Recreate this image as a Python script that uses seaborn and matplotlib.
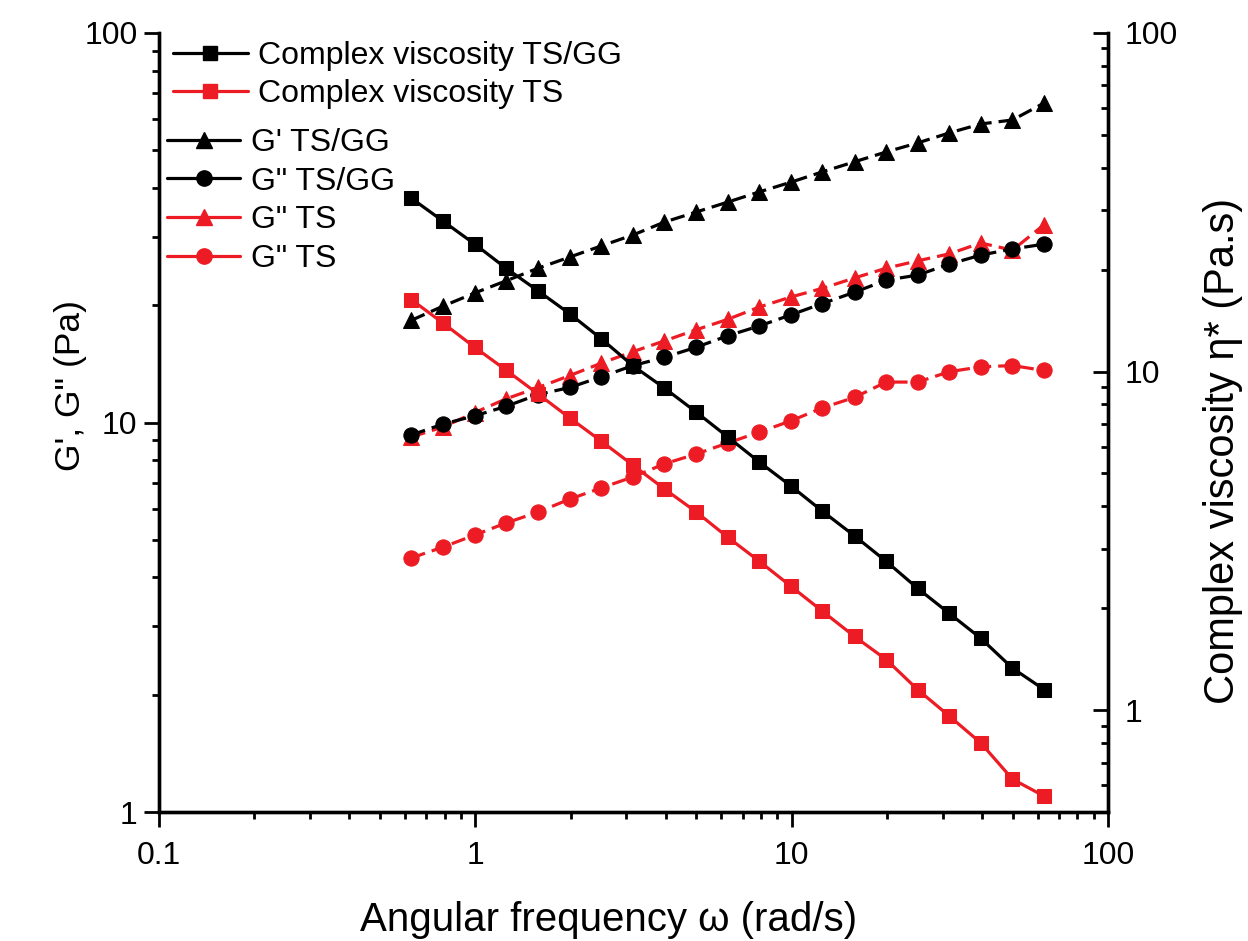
import matplotlib.pyplot as plt
import seaborn as sns
from matplotlib.lines import Line2D
from matplotlib.ticker import FuncFormatter, NullFormatter

# angular frequency (rad/s)
omega = [0.628, 0.791, 0.995, 1.25, 1.58, 1.99, 2.50, 3.15, 3.96, 4.99, 6.28,
         7.91, 9.95, 12.5, 15.8, 19.9, 25.0, 31.5, 39.6, 49.9, 62.8]

# complex viscosity (Pa.s) - right axis
eta_tsgg = [32.5, 27.8, 23.8, 20.2, 17.3, 14.8, 12.5, 10.4, 8.94, 7.59, 6.41,
            5.40, 4.59, 3.87, 3.27, 2.75, 2.29, 1.93, 1.63, 1.33, 1.15]
eta_ts = [16.3, 13.9, 11.8, 10.1, 8.58, 7.29, 6.23, 5.29, 4.50, 3.85, 3.24,
          2.75, 2.32, 1.96, 1.65, 1.41, 1.15, 0.96, 0.80, 0.625, 0.557]

# moduli (Pa) - left axis
g1_tsgg = [18.3, 19.9, 21.5, 23.1, 24.9, 26.6, 28.4, 30.3, 32.7, 34.7, 36.8,
           39.1, 41.4, 44.0, 46.7, 49.5, 52.2, 55.4, 58.4, 59.8, 66.1]
g2_tsgg = [9.29, 9.91, 10.4, 11.0, 11.8, 12.3, 13.1, 14.0, 14.7, 15.6, 16.7,
           17.7, 18.9, 20.2, 21.6, 23.2, 23.9, 25.5, 26.9, 27.9, 28.7]
g2_ts_tri = [9.18, 9.74, 10.6, 11.5, 12.3, 13.2, 14.2, 15.2, 16.2, 17.3, 18.4,
             19.8, 21.0, 22.1, 23.5, 24.9, 26.0, 27.1, 28.9, 27.7, 32.2]
g2_ts_circ = [4.49, 4.79, 5.14, 5.52, 5.89, 6.36, 6.79, 7.25, 7.83, 8.30, 8.86,
              9.45, 10.1, 10.9, 11.6, 12.7, 12.7, 13.5, 13.9, 14.0, 13.6]

visc_labels = ["Complex viscosity TS/GG", "Complex viscosity TS"]
mod_labels = ["G' TS/GG", 'G" TS/GG', 'G" TS', 'G" TS']

BLACK = "black"
RED = "#ed1c24"
LW = 2.3
DASH = (0, (4.5, 2.2))

sns.set_style("ticks")
plt.rcParams['font.family'] = ['Liberation Sans', 'DejaVu Sans']
plt.rcParams.update({'text.color': 'black', 'axes.labelcolor': 'black',
                     'xtick.color': 'black', 'ytick.color': 'black',
                     'axes.edgecolor': 'black'})

fig, ax = plt.subplots(figsize=(12.48, 9.41), dpi=100)
fig.subplots_adjust(left=159/1248, right=1108/1248, bottom=1-812/941, top=1-33/941)
ax2 = ax.twinx()

# left axis: moduli (dashed lines)
sns.lineplot(x=omega, y=g1_tsgg, ax=ax, color=BLACK, marker='^', markersize=12,
             markeredgecolor=BLACK, lw=LW, linestyle=DASH)
sns.lineplot(x=omega, y=g2_ts_tri, ax=ax, color=RED, marker='^', markersize=12,
             markeredgecolor=RED, lw=LW, linestyle=DASH)
sns.lineplot(x=omega, y=g2_tsgg, ax=ax, color=BLACK, marker='o', markersize=11,
             markeredgecolor=BLACK, lw=LW, linestyle=DASH)
sns.lineplot(x=omega, y=g2_ts_circ, ax=ax, color=RED, marker='o', markersize=11,
             markeredgecolor=RED, lw=LW, linestyle=DASH)

# right axis: complex viscosity (solid lines)
sns.lineplot(x=omega, y=eta_ts, ax=ax2, color=RED, marker='s', markersize=10,
             markeredgecolor=RED, lw=LW)
sns.lineplot(x=omega, y=eta_tsgg, ax=ax2, color=BLACK, marker='s', markersize=10,
             markeredgecolor=BLACK, lw=LW)

fmt = FuncFormatter(lambda v, p: f"{v:g}")
for a in (ax, ax2):
    a.set_xscale('log')
    a.set_yscale('log')
    a.set_xlim(0.1, 100)
    a.spines['top'].set_visible(False)
    for s in a.spines.values():
        s.set_linewidth(2.4)
    a.yaxis.set_major_formatter(fmt)
    a.yaxis.set_minor_formatter(NullFormatter())
ax.xaxis.set_major_formatter(fmt)
ax.xaxis.set_minor_formatter(NullFormatter())
ax.set_ylim(1, 100)
ax2.set_ylim(0.5, 100)

ax.tick_params(which='major', direction='out', length=11, width=2, labelsize=23)
ax.tick_params(which='minor', direction='out', length=5, width=2)
ax.tick_params(axis='x', pad=10)
ax.tick_params(axis='y', pad=4.5)
ax2.tick_params(axis='y', which='major', direction='in', length=11, width=2,
                labelsize=23, pad=12)
ax2.tick_params(axis='y', which='minor', direction='in', length=5, width=2)

ax.set_xlabel("Angular frequency ω (rad/s)", fontsize=29)
ax.xaxis.set_label_coords(0.474, -0.114)
ax.set_ylabel('G\', G" (Pa)', fontsize=25.5)
ax.yaxis.set_label_coords(-0.076, 0.548)
ax2.set_ylabel("Complex viscosity η* (Pa.s)", fontsize=30)
ax2.yaxis.set_label_coords(1.1, 0.463)

# legends (solid lines in the key)
h1 = [Line2D([], [], color=BLACK, marker='s', ms=10, lw=LW),
      Line2D([], [], color=RED, marker='s', ms=10, lw=LW)]
h2 = [Line2D([], [], color=BLACK, marker='^', ms=12, lw=LW),
      Line2D([], [], color=BLACK, marker='o', ms=11, lw=LW),
      Line2D([], [], color=RED, marker='^', ms=12, lw=LW),
      Line2D([], [], color=RED, marker='o', ms=11, lw=LW)]
leg1 = ax2.legend(h1, visc_labels, loc='upper left', bbox_to_anchor=(0.0147, 0.99),
                  frameon=False, fontsize=23, handlelength=2.35, handletextpad=0.3,
                  labelspacing=0.25, borderpad=0, borderaxespad=0)
ax2.add_artist(leg1)
ax2.legend(h2, mod_labels, loc='upper left', bbox_to_anchor=(0.0084, 0.878),
           frameon=False, fontsize=23, handlelength=2.3, handletextpad=0.33,
           labelspacing=0.27, borderpad=0, borderaxespad=0)

plt.savefig("out.png", dpi=100)
